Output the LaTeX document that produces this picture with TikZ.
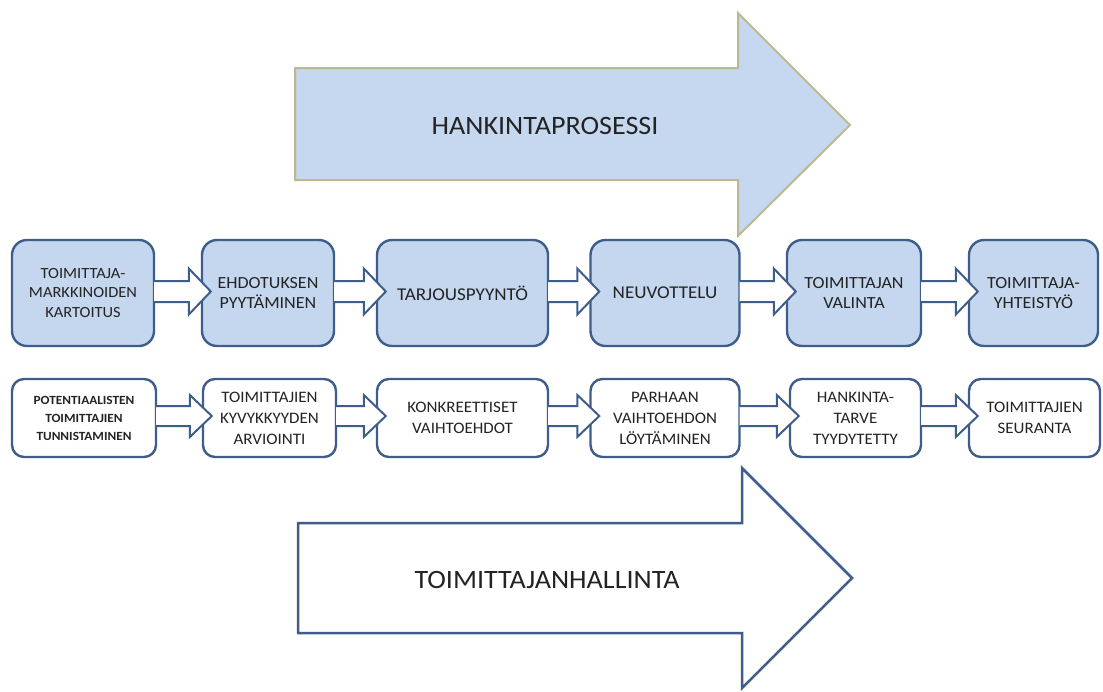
\documentclass[tikz,border=0pt]{standalone}
\usepackage{fontspec}
\setmainfont{Carlito}[FakeStretch=1.06]
\usetikzlibrary{calc}
\definecolor{boxfill}{RGB}{197,215,238}
\definecolor{boxline}{RGB}{62,93,138}
\definecolor{bigfill}{RGB}{198,216,240}
\definecolor{bigline}{RGB}{190,184,146}
\definecolor{txt}{RGB}{35,35,35}
\tikzset{
 stepA/.style={draw=boxline, line width=2.4pt, fill=boxfill, rounded corners=15pt, align=center, text=txt, inner sep=2pt, font=\fontsize{17}{20}\selectfont, minimum height=106pt},
 stepB/.style={draw=boxline, line width=2.4pt, fill=white, rounded corners=12pt, align=center, text=txt, inner sep=2pt, font=\fontsize{16}{21}\selectfont, minimum height=78pt},
 flow/.style={draw=boxline, line width=2pt, fill=white, line join=miter},
 bigA/.style={draw=bigline, line width=2pt, fill=bigfill},
 bigB/.style={draw=boxline, line width=2.5pt, fill=white},
 bigtext/.style={text=txt, font=\fontsize{26.5}{30}\selectfont}
}
% #1 from node, #2 to node, #3 shaft half height, #4 head half height, #5 vertical shift
\newcommand\flowarrow[5]{%
 \draw[flow] let \p1=(#1.east), \p2=(#2.west), \p3=(#1.center) in
   (\x1-1pt,\y3+#5+#3) -- (\x2-12pt,\y3+#5+#3) -- (\x2-12pt,\y3+#5+#4) -- (\x2+10pt,\y3+#5)
   -- (\x2-12pt,\y3+#5-#4) -- (\x2-12pt,\y3+#5-#3) -- (\x1-1pt,\y3+#5-#3);}
\begin{document}
\begin{tikzpicture}[x=1pt,y=-1pt]
\useasboundingbox (0,0) rectangle (1103,691);
% big arrows
\draw[bigA] (295,68) -- (738,68) -- (738,13) -- (850,125) -- (738,236) -- (738,180) -- (295,180) -- cycle;
\node[bigtext] (hp) at (545,126) {HANKINTAPROSESSI};
\draw[bigB] (298,523) -- (742,523) -- (742,468) -- (852,578) -- (742,688) -- (742,633) -- (298,633) -- cycle;
\node[bigtext] (th) at (547,580) {TOIMITTAJANHALLINTA};
% row 1
\node[stepA, minimum width=142pt, font=\fontsize{15.5}{19.5}\selectfont] (a1) at (83,293) {TOIMITTAJA-\\MARKKINOIDEN\\KARTOITUS};
\node[stepA, minimum width=132pt] (a2) at (268,293) {EHDOTUKSEN\\PYYTÄMINEN};
\node[stepA, minimum width=171pt, font=\fontsize{18}{21}\selectfont] (a3) at (462.5,293) {TARJOUSPYYNTÖ};
\node[stepA, minimum width=149pt, font=\fontsize{18}{21}\selectfont] (a4) at (665,293) {NEUVOTTELU};
\node[stepA, minimum width=134pt] (a5) at (854,293) {TOIMITTAJAN\\VALINTA};
\node[stepA, minimum width=129pt] (a6) at (1033.5,293) {TOIMITTAJA-\\YHTEISTYÖ};
% row 2
\node[stepB, minimum width=144pt, font=\fontsize{12.5}{18}\selectfont\bfseries] (b1) at (84,418) {POTENTIAALISTEN\\TOIMITTAJIEN\\TUNNISTAMINEN};
\node[stepB, minimum width=133pt] (b2) at (269.5,418) {TOIMITTAJIEN\\KYVYKKYYDEN\\ARVIOINTI};
\node[stepB, minimum width=171pt] (b3) at (462.5,418) {KONKREETTISET\\VAIHTOEHDOT};
\node[stepB, minimum width=149pt] (b4) at (665,418) {PARHAAN\\VAIHTOEHDON\\LÖYTÄMINEN};
\node[stepB, minimum width=131pt] (b5) at (855.5,418) {HANKINTA-\\TARVE\\TYYDYTETTY};
\node[stepB, minimum width=131pt] (b6) at (1034.5,418) {TOIMITTAJIEN\\SEURANTA};
% small arrows
\flowarrow{a1}{a2}{10.5pt}{23pt}{1.5pt}
\flowarrow{a2}{a3}{10.5pt}{23pt}{1.5pt}
\flowarrow{a3}{a4}{10.5pt}{23pt}{1.5pt}
\flowarrow{a4}{a5}{10.5pt}{23pt}{1.5pt}
\flowarrow{a5}{a6}{10.5pt}{23pt}{1.5pt}
\flowarrow{b1}{b2}{10pt}{21pt}{2pt}
\flowarrow{b2}{b3}{10pt}{21pt}{2pt}
\flowarrow{b3}{b4}{10pt}{21pt}{2pt}
\flowarrow{b4}{b5}{10pt}{21pt}{2pt}
\flowarrow{b5}{b6}{10pt}{21pt}{2pt}
\end{tikzpicture}
\end{document}
